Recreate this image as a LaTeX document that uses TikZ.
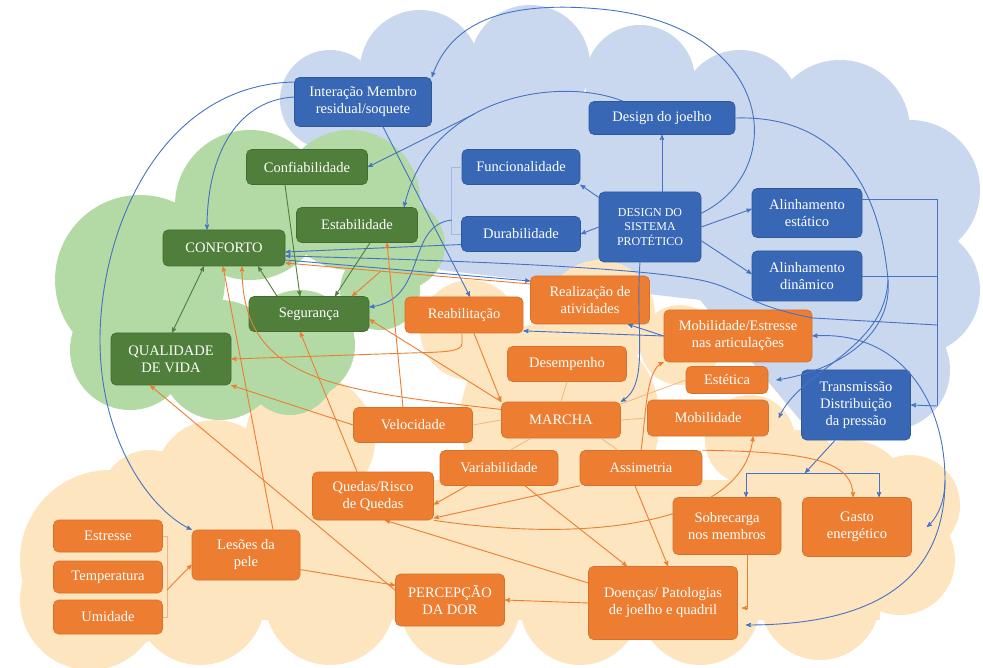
\documentclass[tikz,border=0pt]{standalone}
\usepackage{fontspec}
\setmainfont{Liberation Serif}
\usepackage{tikz}
\usetikzlibrary{arrows, calc}
\definecolor{cblue}{HTML}{3767B5}
\definecolor{cgreen}{HTML}{4F7F3A}
\definecolor{corange}{HTML}{ED7D31}
\definecolor{lblue}{HTML}{4472C4}
\definecolor{skyblue}{HTML}{C9D8EF}
\definecolor{skygreen}{HTML}{B3D9A5}
\definecolor{skyorange}{HTML}{FDE5BF}
\tikzset{
>=stealth',
box/.style={%
    rectangle,
    rounded corners=5pt,
    text=white,
    align=center,
    inner sep=2pt,
    line width=0.6pt,
    font=\fontsize{14.5}{17}\selectfont
},
wh/.style 2 args={minimum width=#1, minimum height=#2},
bbox/.style={box, fill=cblue, draw=cblue!85!black},
gbox/.style={box, fill=cgreen, draw=cgreen!85!black},
obox/.style={box, fill=corange, draw=corange!90!black},
bline/.style={draw=lblue, line width=0.9pt},
gline/.style={draw=cgreen, line width=0.9pt},
oline/.style={draw=corange, line width=0.9pt},
pline/.style={draw=corange!35!skyorange!85!brown, line width=0.8pt},
bracket/.style={draw=lblue!50, line width=0.6pt},
obracket/.style={draw=corange!60, line width=0.6pt},
}

\begin{document}
\begin{tikzpicture}[x=1pt, y=-1pt]
\useasboundingbox (0,0) rectangle (983,668);
% clouds
\foreach \cx/\cy/\r in {330/100/50, 420/70/60, 530/65/60, 640/80/55, 740/110/60,
    840/130/70, 910/190/70, 915/290/65, 890/370/60, 840/395/45}
  \fill[skyblue] (\cx,\cy) circle (\r pt);
\fill[skyblue] (330,70) -- (900,120) -- (930,380) -- (800,420) -- (700,300) -- (440,270) -- (320,130) -- cycle;
\foreach \cx/\cy/\r in {110/560/90, 90/600/70, 150/500/50, 215/480/60, 310/440/65, 470/330/50,
    600/315/55, 680/345/40, 560/420/100, 750/440/45, 800/470/40, 850/500/60, 910/505/50,
    900/560/55, 820/600/60, 700/605/60, 580/605/60, 460/605/60, 330/600/65, 200/600/65}
  \fill[skyorange] (\cx,\cy) circle (\r pt);
\fill[skyorange] (130,480) rectangle (880,620);
\foreach \cx/\cy/\r in {140/280/85, 250/205/75, 350/200/70, 400/245/45, 130/350/60,
    220/360/60, 300/345/55, 290/370/45, 380/290/40}
  \fill[skygreen] (\cx,\cy) circle (\r pt);

% blue nodes
\node[bbox, wh={137}{49}] (inter) at (363,102) {Interação Membro\\residual/soquete};
\node[bbox, wh={146}{33}] (joelho) at (662,118) {Design do joelho};
\node[bbox, wh={118}{35}] (func) at (521,167) {Funcionalidade};
\node[bbox, wh={119}{35}] (durab) at (521,234) {Durabilidade};
\node[bbox, wh={102}{70}, font=\fontsize{12}{14.5}\selectfont] (dsp) at (650,227) {DESIGN DO\\SISTEMA\\PROTÉTICO};
\node[bbox, wh={110}{49}] (alest) at (807,213) {Alinhamento\\estático};
\node[bbox, wh={110}{50}] (aldin) at (807,276) {Alinhamento\\dinâmico};
\node[bbox, wh={109}{70}] (transm) at (856,405) {Transmissão\\Distribuição\\da pressão};
% green nodes
\node[gbox, wh={121}{35}] (confiab) at (307,167) {Confiabilidade};
\node[gbox, wh={121}{35}] (estab) at (357,225) {Estabilidade};
\node[gbox, wh={122}{36}] (conforto) at (224,248) {CONFORTO};
\node[gbox, wh={120}{35}] (seg) at (309,314) {Segurança};
\node[gbox, wh={120}{52}] (qv) at (171,359) {QUALIDADE\\DE VIDA};
% orange nodes
\node[obox, wh={118}{36}] (reab) at (464,315) {Reabilitação};
\node[obox, wh={119}{48}] (realiz) at (590,300) {Realização de\\atividades};
\node[obox, wh={148}{52}] (mobest) at (738,336) {Mobilidade/Estresse\\nas articulações};
\node[obox, wh={119}{35}] (desemp) at (567,364) {Desempenho};
\node[obox, wh={82}{27}] (estet) at (727,380) {Estética};
\node[obox, wh={119}{36}] (marcha) at (561,420) {MARCHA};
\node[obox, wh={121}{36}] (mobil) at (708,418) {Mobilidade};
\node[obox, wh={119}{35}] (veloc) at (413,425) {Velocidade};
\node[obox, wh={118}{35}] (variab) at (499,468) {Variabilidade};
\node[obox, wh={122}{35}] (assim) at (641,468) {Assimetria};
\node[obox, wh={121}{48}] (quedas) at (373,496) {Quedas/Risco\\de Quedas};
\node[obox, wh={108}{57}] (sobrec) at (727,526) {Sobrecarga\\nos membros};
\node[obox, wh={109}{59}] (gasto) at (857,527) {Gasto\\energético};
\node[obox, wh={108}{50}] (lesoes) at (246,555) {Lesões da\\pele};
\node[obox, wh={109}{32}] (estresse) at (108,536) {Estresse};
\node[obox, wh={109}{32}] (temp) at (108,577) {Temperatura};
\node[obox, wh={109}{34}] (umid) at (108,617) {Umidade};
\node[obox, wh={109}{52}] (dor) at (450,600) {PERCEPÇÃO\\DA DOR};
\node[obox, wh={149}{73}] (doencas) at (663,603) {Doenças/ Patologias\\de joelho e quadril};

% bracket points
\coordinate (brk) at (452,220);
\coordinate (rb1) at (937,199);
\coordinate (rb2) at (937,406);
\coordinate (rb3) at (937,325);
\coordinate (tb) at (805,473);
\coordinate (ts) at (746,473);
\coordinate (tg) at (879,473);
\coordinate (eb) at (167,590);

% blue connectors
\draw[bline,->] (joelho.south |- dsp.north) -- (joelho.south);
\draw[bline,->] (dsp.150) -- (func.south east);
\draw[bline,->] (dsp.west) -- (durab.east);
\draw[bline,->] (dsp.east) -- ([yshift=4pt]alest.west);
\draw[bline,->] (dsp.-15) -- ([yshift=2pt]aldin.west);
\draw[bracket] (func.west) -- ++(-10,0) |- (durab.west);
\draw[bline,->] (durab.190) -- ([yshift=-4pt]conforto.east);
\draw[bline,->] (brk) .. controls (405,225) and (428,300) .. ([yshift=7pt]seg.east);
\draw[bline] ([yshift=14pt]alest.east) -- (rb1) -- (rb2);
\draw[bline] (aldin.east) -- (aldin.east -| rb1);
\draw[bline,->] (rb2) -- (transm.east);
\draw[bline,->] (rb3) -- (813,318) .. controls (745,305) and (740,288) .. (700,280)
    .. controls (650,270) and (520,262) .. ([yshift=-8pt]conforto.east);
\draw[bline,->] ([yshift=-12pt]conforto.east) -- ([yshift=19pt]realiz.west);
\draw[bline,->] ([xshift=20pt]inter.south) -- ([xshift=6pt]reab.north);
\draw[bline,->] ([yshift=5pt]inter.west) .. controls (240,100) and (207,150) .. ([xshift=-17pt]conforto.north);
\draw[bline,->] ([yshift=20pt]inter.west) .. controls (160,85) and (100,230) .. (100,340)
    .. controls (100,440) and (150,510) .. (lesoes.north west);
\draw[bline,->] (dsp.15) .. controls (790,170) and (775,25) .. (600,9)
    .. controls (500,0) and (450,25) .. (inter.north east);
\draw[bline,->] ([xshift=-39pt]joelho.north) .. controls (560,76) and (430,95) .. coordinate[pos=0.6] (jarc) ([xshift=47pt]estab.north);
\draw[bline,->] (jarc) -- (confiab.east);
\draw[bline,->] (joelho.east) .. controls (840,115) and (880,190) .. (888,280) coordinate (jr)
    .. controls (893,340) and (830,372) .. ([xshift=8pt]estet.east);
\draw[bline,->] (jr) .. controls (885,350) and (800,370) .. ([xshift=10pt]mobil.east);
\draw[bline,<->] (mobest.east) .. controls (900,330) and (945,400) .. (945,480) coordinate (mdg)
    .. controls (945,590) and (860,625) .. ([xshift=8pt,yshift=-22pt]doencas.east);
\draw[bline,->] (mdg) .. controls (945,505) and (935,520) .. ([xshift=15pt]gasto.east);
\draw[bline,->] ([xshift=-10pt]dsp.south) .. controls (635,330) and (650,385) .. (marcha.north east);
\draw[bline,->] (mobest.west) -- ([xshift=-22pt]realiz.south east);
\draw[bline,->] (mobest.west) -- (reab.-15);
\draw[bline,->] ([xshift=-21pt]transm.south) -- (tb);
\draw[bline] (ts) -- (tg);
\draw[bline,->] (ts) -- (ts |- sobrec.north);
\draw[bline,->] (tg) -- (tg |- gasto.north);

% orange connectors
\draw[oline,->] (realiz.165) -- coordinate[pos=0.61] (rc) ([yshift=-15pt]conforto.east);
\draw[oline,->] (rc) -- ([xshift=43pt]seg.north);
\draw[oline,->] ([xshift=-10pt]veloc.north) -- ([xshift=30pt]estab.south);
\draw[oline,->] (veloc.west) -- (qv.south east);
\draw[oline,->] (marcha.north west) -- (seg.-5);
\draw[oline,->] (marcha.170) .. controls (330,390) and (242,380) .. ([xshift=18pt]conforto.south);
\draw[oline,->] ([xshift=27pt]lesoes.north) -- ([xshift=-1pt]conforto.south);
\draw[oline,->] ([xshift=-2pt]reab.south) -- ++(0,10) .. controls (462,352) and (445,352) .. (410,353) -- (qv.east);
\draw[oline,->] (dor.170) -- ([xshift=-21pt]qv.south);
\draw[oline,->] ([xshift=-16pt]quedas.north) -- ([xshift=-9pt]seg.south);
\draw[oline,->] ([xshift=-32pt]variab.south) -- (quedas.-8);
\draw[oline,->] (assim.south west) -- (quedas.-20);
\draw[oline,->] (quedas.south east) .. controls (600,545) and (745,520) .. ([xshift=45pt]mobil.south);
\draw[oline,->] (doencas.165) -- ([xshift=12pt]quedas.south);
\draw[oline,->] (doencas.west) -- (dor.east);
\draw[oline,->] (lesoes.-15) -- (dor.165);
\draw[obracket] (estresse.east) -- ++(4,0) |- (umid.east);
\draw[oline,->] (eb) -- (lesoes.190);
\draw[oline,->] ([xshift=26pt]variab.south) -- ([xshift=-36pt]doencas.north);
\draw[oline,->] ([xshift=-6pt]assim.south) -- ([xshift=5pt]doencas.north);
\draw[oline,->] ([xshift=20pt]sobrec.south) |- ([xshift=4pt,yshift=-5pt]doencas.east);
\draw[oline,->] ([xshift=10pt]reab.south) -- (marcha.north west);
\draw[oline,->] (assim.north) .. controls (646,420) and (645,370) .. (mobest.south west);
\draw[oline,->] (assim.north east) .. controls (800,452) and (853,458) .. ([xshift=-4pt]gasto.north);
\draw[pline] (desemp.south) -- (marcha.north);
\draw[pline] (marcha.west) -- (veloc.east);
\draw[pline] (marcha.east) -- (mobil.west);
\draw[pline] (marcha.15) -- (estet.west);
\draw[pline] ([xshift=-30pt]marcha.south) -- ([xshift=11pt]variab.north);
\draw[pline] ([xshift=40pt]marcha.south) -- ([xshift=-23pt]assim.north);

% green connectors
\draw[gline,->] ([xshift=-22pt]confiab.south) -- ([xshift=-9pt]seg.north);
\draw[gline,->] ([xshift=13pt]estab.south) -- ([xshift=26pt]seg.north);
\draw[gline,->] ([xshift=-32pt]seg.north) -- ([xshift=34pt]conforto.south);
\draw[gline,<->] ([xshift=-20pt]conforto.south) -- ([xshift=1pt]qv.north);
\end{tikzpicture}
\end{document}
